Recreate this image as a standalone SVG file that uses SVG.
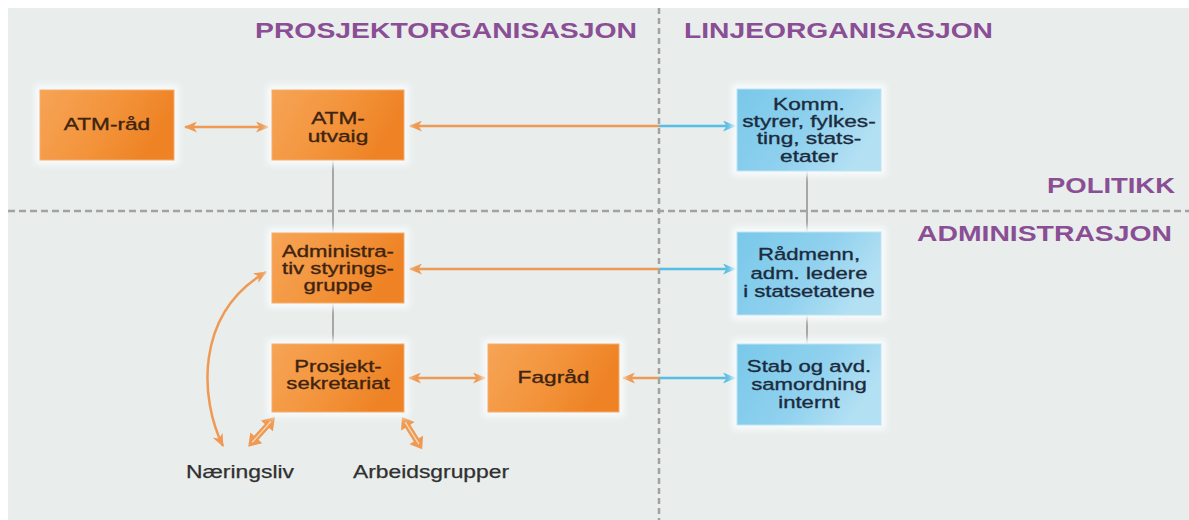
<svg xmlns="http://www.w3.org/2000/svg" width="1189" height="520" viewBox="0 0 1189 520">
  <style>
    .hdr { font-family: "Liberation Sans", Arial, sans-serif; font-weight: bold; font-size: 21.5px; fill: #8a4e95; }
    .bt { font-family: "Liberation Sans", Arial, sans-serif; font-size: 17.3px; text-anchor: middle; stroke-width: 0.35; }
    .ot { fill: #3e2410; stroke: #3e2410; }
    .btxt { fill: #1b2b3d; stroke: #1b2b3d; }
    .lbl { font-family: "Liberation Sans", Arial, sans-serif; font-size: 17.5px; fill: #303030; stroke: #303030; stroke-width: 0.25; }
    .obox { fill: url(#gOrange); stroke: #f5ac6c; stroke-width: 1; }
    .bbox { fill: url(#gBlue); stroke: #bfe3f2; stroke-width: 1; }
    .halo { fill: #f7fbfc; filter: url(#blur); }
    .grid { stroke: #a2a2a2; stroke-width: 2.5; fill: none; }
    .tie { stroke: #a6a6a6; stroke-width: 2; fill: none; }
    .oarr { stroke: #ee9a55; stroke-width: 2.5; fill: none; }
    .barr { stroke: #58bde4; stroke-width: 2.5; fill: none; }
    .fat { fill: #ef9a52; }
  </style>
  <defs>
    <linearGradient id="gOrange" x1="0" y1="0" x2="1" y2="0.3">
      <stop offset="0" stop-color="#f6a456"/>
      <stop offset="0.55" stop-color="#f3943c"/>
      <stop offset="1" stop-color="#ee8224"/>
    </linearGradient>
    <linearGradient id="gBlue" x1="0" y1="0" x2="1" y2="0.4">
      <stop offset="0" stop-color="#79c8ea"/>
      <stop offset="0.6" stop-color="#90d1ee"/>
      <stop offset="1" stop-color="#b3e0f3"/>
    </linearGradient>
    <filter id="blur" x="-20%" y="-20%" width="140%" height="140%">
      <feGaussianBlur stdDeviation="3"/>
    </filter>
    <marker id="mO" viewBox="0 0 13 11" refX="12" refY="5.5" markerWidth="13" markerHeight="11" markerUnits="userSpaceOnUse" orient="auto-start-reverse">
      <path d="M0,0 L13,5.5 L0,11 L3.5,5.5 Z" fill="#ee9a55"/>
    </marker>
    <marker id="mB" viewBox="0 0 13 11" refX="12" refY="5.5" markerWidth="13" markerHeight="11" markerUnits="userSpaceOnUse" orient="auto-start-reverse">
      <path d="M0,0 L13,5.5 L0,11 L3.5,5.5 Z" fill="#58bde4"/>
    </marker>
  </defs>

  <!-- page -->
  <rect x="0" y="0" width="1189" height="520" fill="#ffffff"/>
  <rect x="8" y="8" width="1181" height="512" fill="#e9edec"/>

  <!-- quadrant dividers -->
  <g id="dividers">
    <line class="grid" x1="8" y1="211" x2="1189" y2="211" stroke-dasharray="7 4"/>
    <line class="grid" x1="659" y1="8" x2="659" y2="520" stroke-dasharray="6 4"/>
  </g>

  <!-- quadrant titles -->
  <g id="titles">
    <text class="hdr" x="255" y="38" textLength="382" lengthAdjust="spacingAndGlyphs">PROSJEKTORGANISASJON</text>
    <text class="hdr" x="684" y="38" textLength="309" lengthAdjust="spacingAndGlyphs">LINJEORGANISASJON</text>
    <text class="hdr" x="1047" y="193" textLength="128" lengthAdjust="spacingAndGlyphs">POLITIKK</text>
    <text class="hdr" x="917" y="241" textLength="255" lengthAdjust="spacingAndGlyphs">ADMINISTRASJON</text>
  </g>

  <!-- connectors -->
  <g id="connectors">
    <line class="tie" x1="333" y1="160" x2="333" y2="233"/>
    <line class="tie" x1="333" y1="303" x2="333" y2="344"/>
    <line class="tie" x1="807" y1="171" x2="807" y2="232"/>
    <line class="tie" x1="807" y1="315" x2="807" y2="344"/>

    <line class="oarr" x1="185" y1="127" x2="268" y2="127" marker-start="url(#mO)" marker-end="url(#mO)"/>

    <line class="oarr" x1="410" y1="126" x2="659" y2="126" marker-start="url(#mO)"/>
    <line class="barr" x1="659" y1="126" x2="735" y2="126" marker-end="url(#mB)"/>

    <line class="oarr" x1="410" y1="269" x2="659" y2="269" marker-start="url(#mO)"/>
    <line class="barr" x1="659" y1="269" x2="735" y2="269" marker-end="url(#mB)"/>

    <line class="oarr" x1="409" y1="378" x2="485" y2="378" marker-start="url(#mO)" marker-end="url(#mO)"/>

    <line class="oarr" x1="623" y1="378" x2="659" y2="378" marker-start="url(#mO)"/>
    <line class="barr" x1="659" y1="378" x2="735" y2="378" marker-end="url(#mB)"/>

    <path class="oarr" d="M 223 446 C 200 400, 194 314, 266 272" stroke-width="2" marker-start="url(#mO)" marker-end="url(#mO)"/>

    <g transform="translate(275 417) rotate(132)">
      <polygon class="fat" points="0,0 12,-8 12,-3 28,-3 28,-8 40,0 28,8 28,3 12,3 12,8"/>
      <line x1="6" y1="0" x2="34" y2="0" stroke="#f9dcc2" stroke-width="1.2"/>
    </g>
    <g transform="translate(402 417) rotate(58)">
      <polygon class="fat" points="0,0 11,-8 11,-3 27,-3 27,-8 38,0 27,8 27,3 11,3 11,8"/>
      <line x1="6" y1="0" x2="32" y2="0" stroke="#f9dcc2" stroke-width="1.2"/>
    </g>
  </g>

  <!-- project organisation -->
  <g id="atm-raad">
    <rect class="halo" x="35" y="85" width="144" height="80"/>
    <rect class="obox" x="40" y="90" width="134" height="70"/>
    <text class="bt ot" transform="translate(107 130) scale(1.31 1)">ATM-råd</text>
  </g>
  <g id="atm-utvalg">
    <rect class="halo" x="267" y="85" width="142" height="80"/>
    <rect class="obox" x="272" y="90" width="132" height="70"/>
    <text class="bt ot" transform="translate(338 124) scale(1.31 1)">ATM-</text>
    <text class="bt ot" transform="translate(338 141.5) scale(1.31 1)">utvaig</text>
  </g>
  <g id="styringsgruppe">
    <rect class="halo" x="267" y="228" width="142" height="80"/>
    <rect class="obox" x="272" y="233" width="132" height="70"/>
    <text class="bt ot" transform="translate(338 257) scale(1.28 1)">Administra-</text>
    <text class="bt ot" transform="translate(338 274) scale(1.28 1)">tiv styrings-</text>
    <text class="bt ot" transform="translate(338 291) scale(1.28 1)">gruppe</text>
  </g>
  <g id="sekretariat">
    <rect class="halo" x="267" y="339" width="142" height="78"/>
    <rect class="obox" x="272" y="344" width="132" height="68"/>
    <text class="bt ot" transform="translate(338 371.5) scale(1.28 1)">Prosjekt-</text>
    <text class="bt ot" transform="translate(338 389) scale(1.28 1)">sekretariat</text>
  </g>
  <g id="fagraad">
    <rect class="halo" x="483" y="339" width="141" height="78"/>
    <rect class="obox" x="488" y="344" width="131" height="68"/>
    <text class="bt ot" transform="translate(553.5 383) scale(1.31 1)">Fagråd</text>
  </g>

  <!-- line organisation -->
  <g id="politisk">
    <rect class="halo" x="732" y="84" width="154" height="92"/>
    <rect class="bbox" x="737" y="89" width="144" height="82"/>
    <text class="bt btxt" transform="translate(809 109.5) scale(1.31 1)">Komm.</text>
    <text class="bt btxt" transform="translate(809 127) scale(1.31 1)">styrer, fylkes-</text>
    <text class="bt btxt" transform="translate(809 144) scale(1.31 1)">ting, stats-</text>
    <text class="bt btxt" transform="translate(809 162) scale(1.31 1)">etater</text>
  </g>
  <g id="raadmenn">
    <rect class="halo" x="732" y="227" width="154" height="93"/>
    <rect class="bbox" x="737" y="232" width="144" height="83"/>
    <text class="bt btxt" transform="translate(809 260) scale(1.28 1)">Rådmenn,</text>
    <text class="bt btxt" transform="translate(809 278.5) scale(1.28 1)">adm. ledere</text>
    <text class="bt btxt" transform="translate(809 297) scale(1.28 1)">i statsetatene</text>
  </g>
  <g id="stab">
    <rect class="halo" x="732" y="339" width="154" height="91"/>
    <rect class="bbox" x="737" y="344" width="144" height="81"/>
    <text class="bt btxt" transform="translate(809 372) scale(1.28 1)">Stab og avd.</text>
    <text class="bt btxt" transform="translate(809 390) scale(1.28 1)">samordning</text>
    <text class="bt btxt" transform="translate(809 408) scale(1.28 1)">internt</text>
  </g>

  <!-- outside parties -->
  <g id="naeringsliv">
    <text class="lbl" x="186" y="478" textLength="108" lengthAdjust="spacingAndGlyphs">Næringsliv</text>
  </g>
  <g id="arbeidsgrupper">
    <text class="lbl" x="353" y="478" textLength="156" lengthAdjust="spacingAndGlyphs">Arbeidsgrupper</text>
  </g>
</svg>
